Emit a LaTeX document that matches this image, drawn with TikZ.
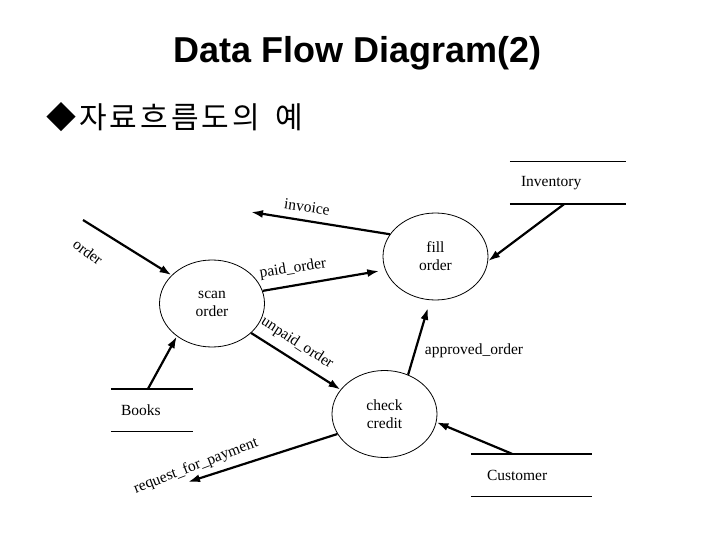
\documentclass[tikz,border=0pt]{standalone}
\usepackage{fontspec}
\setmainfont{Liberation Serif}
\newfontfamily\titlefont{Liberation Sans}
\newfontfamily\krfont[LetterSpace=10]{Noto Sans CJK KR}
\usetikzlibrary{shapes.geometric,arrows.meta}
\newcommand\dfdfont{\fontsize{15.5}{18}\selectfont}
\tikzset{
 proc/.style={ellipse, draw, line width=0.8pt, minimum width=105pt, minimum height=87pt, inner sep=0pt, align=center, font=\dfdfont},
 flow/.style={line width=2.2pt, -{Latex[length=12pt,width=8pt]}},
 storeline/.style={line width=1.4pt},
 store/.style={minimum height=42pt, inner ysep=0pt, align=left, font=\dfdfont},
 flowlabel/.style={font=\dfdfont, inner sep=0pt},
}
\begin{document}
\begin{tikzpicture}[x=1pt,y=-1pt]
\useasboundingbox[fill=white] (0,0) rectangle (720,540);
\node[anchor=base, font={\titlefont\bfseries\fontsize{36}{40}\selectfont}, inner sep=0pt] (title) at (357.5,63) {Data Flow Diagram(2)};
\node[anchor=base west, font={\krfont\fontsize{30}{34}\selectfont}, inner sep=0pt] (sub) at (46,129) {◆자료흐름도의\hspace{16pt}예};

\node[proc] (scan) at (212,303.5) {scan\\order};
\node[proc] (fill) at (435.5,256.5) {fill\\order};
\node[proc] (check) at (384.5,414) {check\\credit};

\node[store, text width=94pt, inner xsep=11pt] (inv) at (568,183) {Inventory};
\node[store, text width=62pt, inner xsep=10pt] (books) at (152,410) {Books};
\node[store, text width=89pt, inner xsep=16pt] (cust) at (531.5,475) {Customer};
\draw[storeline] (inv.north west) -- (inv.north east) (inv.south west) -- (inv.south east);
\draw[storeline] (books.north west) -- (books.north east) (books.south west) -- (books.south east);
\draw[storeline] (cust.north west) -- (cust.north east) (cust.south west) -- (cust.south east);

\coordinate (orderSrc) at (83,220);
\coordinate (invoiceDst) at (251,212);
\coordinate (payDst) at (188,482);

\draw[flow] (orderSrc) -- (scan.145);
\draw[flow] (fill.154) -- (invoiceDst);
\draw[flow, shorten >=6pt] (scan.14) -- (fill.195);
\draw[flow] (scan.-37.5) -- (check.151);
\draw[flow, shorten >=8pt] (check.59) -- (fill.-97);
\draw[flow] ([xshift=-4pt]inv.south) -- (fill.-5);
\draw[flow] ([xshift=-4pt]books.north) -- (scan.-137.7);
\draw[flow] ([xshift=-19.5pt]cust.north) -- (check.-9.4);
\draw[flow] (check.203) -- (payDst);

\node[flowlabel, rotate=-37] (lorder) at (88,252) {order};
\node[flowlabel, rotate=-8] (linv) at (307,207) {invoice};
\node[flowlabel, rotate=9] (lpaid) at (293,269) {paid\_order};
\node[flowlabel, rotate=-33] (lunpaid) at (297,343) {unpaid\_order};
\node[flowlabel] (lappr) at (474,351) {approved\_order};
\node[flowlabel, rotate=21] (lreq) at (196,466) {request\_for\_payment};
\end{tikzpicture}
\end{document}
